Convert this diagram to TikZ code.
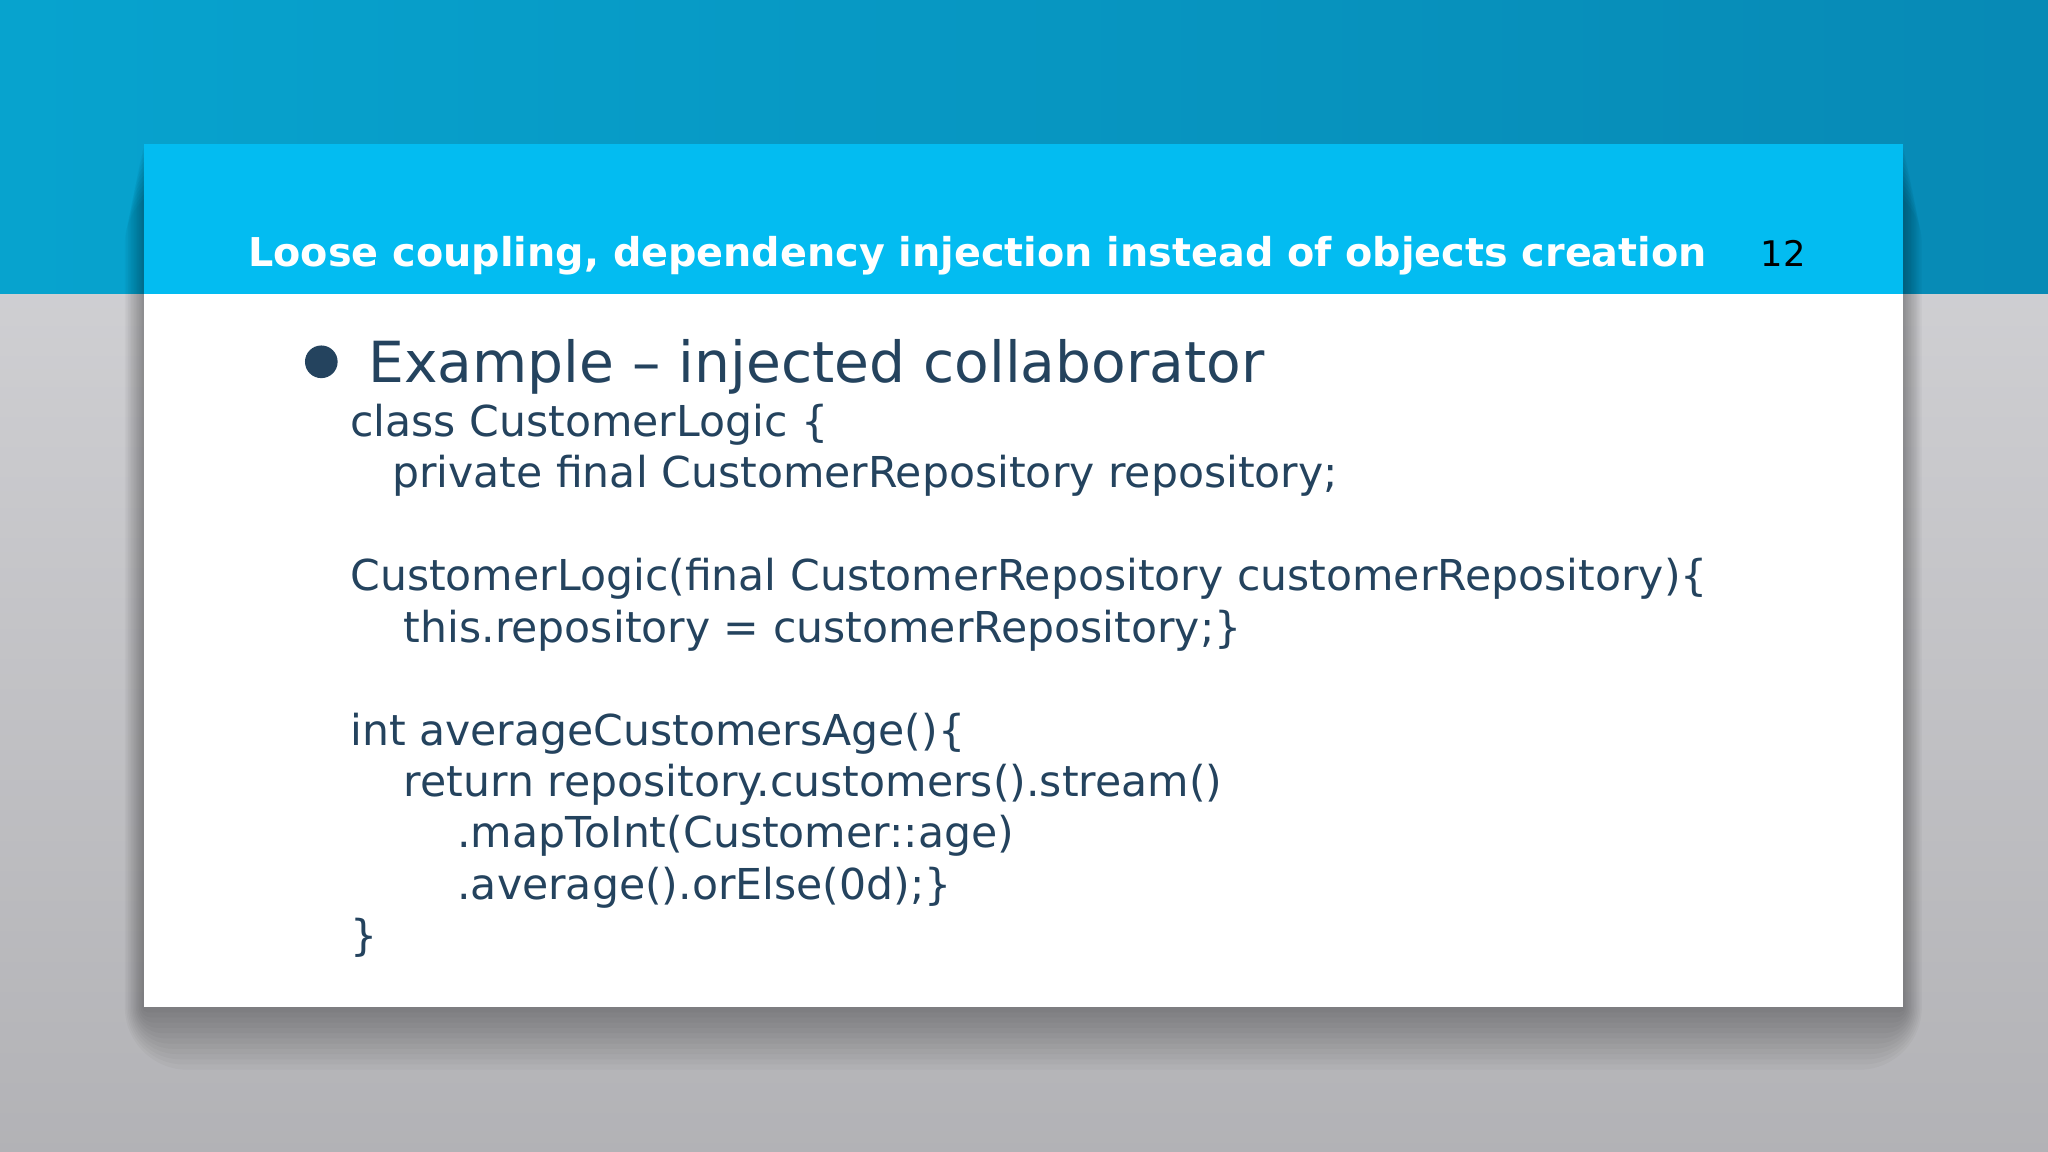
\documentclass[tikz,border=0pt]{standalone}
\usepackage{fontspec}
\setmainfont{DejaVu Sans}
\definecolor{topblue}{HTML}{0899C9}
\definecolor{hdrblue}{HTML}{03BCF1}
\definecolor{greybg}{HTML}{C6C6CA}
\definecolor{codecol}{HTML}{24435E}
\tikzset{code/.style={anchor=base west,text=codecol,font=\fontsize{32.6}{32.6}\selectfont,inner sep=0}}
\begin{document}
\begin{tikzpicture}[x=1pt,y=-1pt]
\useasboundingbox (0,0) rectangle (1568,882);
\shade[top color=greybg!85!white,bottom color=greybg!90!black] (0,225) rectangle (1568,882);
\shade[left color=topblue!90!cyan,right color=topblue!90!black] (0,0) rectangle (1568,225);
\foreach \r in {48,44,...,4}{
  \fill[black,opacity=0.028,rounded corners=\r pt] (110-\r*0.3,110+\r*0.6) rectangle (1457+\r*0.3,771+\r*1.0);
}
\fill[white] (110,110) rectangle (1457,771);
\node[minimum width=1347pt,minimum height=661pt,anchor=north west,inner sep=0] (card) at (110,110) {};
\fill[hdrblue] (110,110) rectangle (1457,225);
\node[anchor=base west,text=white,font=\fontsize{30.4}{30.4}\selectfont\bfseries,inner sep=0] (title) at (190,204) {Loose coupling, dependency injection instead of objects creation};
\node[anchor=base west,text=black,font=\fontsize{27}{27}\selectfont,inner sep=0] (num) at (1348,204) {12};
\fill[codecol] (246,277) circle (12.5);
\node[anchor=base west,text=codecol,font=\fontsize{43.4}{43.4}\selectfont,inner sep=0] (head) at (282,293) {Example – injected collaborator};
\node[code] (l1) at (268,334) {class CustomerLogic \{};
\node[code] (l2) at (300,373) {private final CustomerRepository repository;};
\node[code] (l3) at (268,452) {CustomerLogic(final CustomerRepository customerRepository)\{};
\node[code] (l4) at (309,492) {this.repository = customerRepository;\}};
\node[code] (l5) at (268,571) {int averageCustomersAge()\{};
\node[code] (l6) at (309,610) {return repository.customers().stream()};
\node[code] (l7) at (350,649) {.mapToInt(Customer::age)};
\node[code] (l8) at (350,689) {.average().orElse(0d);\}};
\node[code] (l9) at (268,728) {\}};
\end{tikzpicture}
\end{document}
